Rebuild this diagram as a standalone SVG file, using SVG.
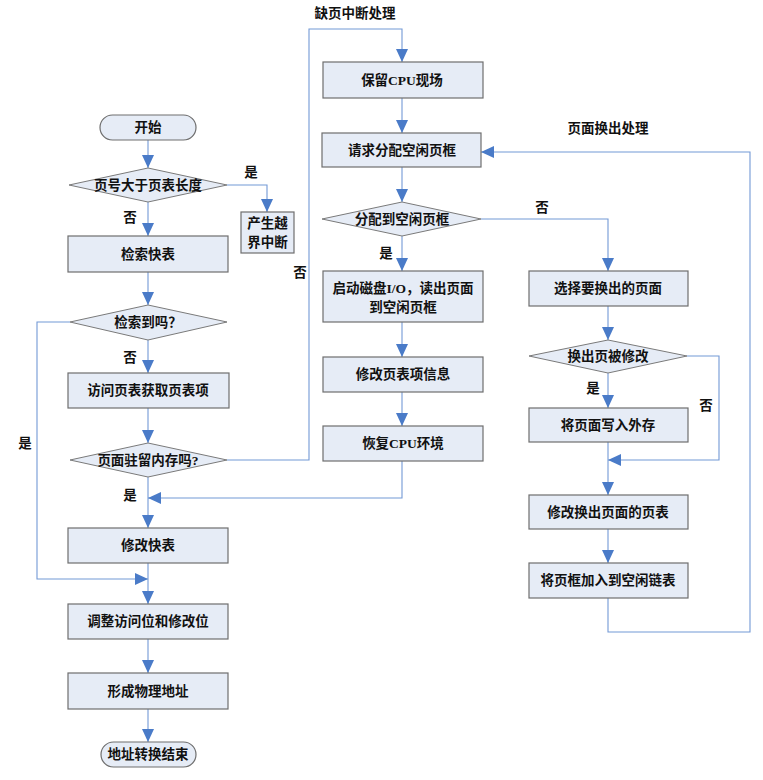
<svg xmlns="http://www.w3.org/2000/svg" width="763" height="780" viewBox="0 0 763 780">
<style>
.box{fill:#e6ecf6;stroke:#6e6e6e;stroke-width:1.2}
.dia{fill:#e6ecf6;stroke:#7a7a7a;stroke-width:1}
.t{font-family:"Liberation Serif","Noto Sans CJK SC",serif;font-weight:bold;font-size:13.5px;fill:#111;text-anchor:middle}
.l{font-family:"Liberation Serif","Noto Sans CJK SC",serif;font-weight:bold;font-size:13.5px;fill:#111;text-anchor:middle}
.c{fill:none;stroke:#7399d6;stroke-width:1.1}
</style>
<defs>
<marker id="ah" markerUnits="userSpaceOnUse" markerWidth="13" markerHeight="12" refX="13" refY="6" orient="auto">
<path d="M0,0 L13,6 L0,12 z" fill="#4a7bc8"/>
</marker>
</defs>
<rect width="763" height="780" fill="#fff"/>
<g id="connectors">
<path class="c" d="M148,140 V168" marker-end="url(#ah)"/>
<path class="c" d="M227,185 H267 V212" marker-end="url(#ah)"/>
<path class="c" d="M148,202 V236" marker-end="url(#ah)"/>
<path class="c" d="M148,272 V305" marker-end="url(#ah)"/>
<path class="c" d="M148,340 V373" marker-end="url(#ah)"/>
<path class="c" d="M148,408 V443" marker-end="url(#ah)"/>
<path class="c" d="M148,477 V528" marker-end="url(#ah)"/>
<path class="c" d="M70,322 H37 V579 H148" marker-end="url(#ah)"/>
<path class="c" d="M148,563 V604" marker-end="url(#ah)"/>
<path class="c" d="M148,639 V673" marker-end="url(#ah)"/>
<path class="c" d="M148,709 V742" marker-end="url(#ah)"/>
<path class="c" d="M227,460 H309 V29 H402 V62" marker-end="url(#ah)"/>
<path class="c" d="M402,98 V133" marker-end="url(#ah)"/>
<path class="c" d="M402,167 V202" marker-end="url(#ah)"/>
<path class="c" d="M402,236 V271" marker-end="url(#ah)"/>
<path class="c" d="M402,322 V357" marker-end="url(#ah)"/>
<path class="c" d="M402,392 V426" marker-end="url(#ah)"/>
<path class="c" d="M402,461 V498 H148" marker-end="url(#ah)"/>
<path class="c" d="M481,219 H608 V271" marker-end="url(#ah)"/>
<path class="c" d="M608,306 V340" marker-end="url(#ah)"/>
<path class="c" d="M608,373 V408" marker-end="url(#ah)"/>
<path class="c" d="M687,356 H719 V460 H608" marker-end="url(#ah)"/>
<path class="c" d="M608,442 V495" marker-end="url(#ah)"/>
<path class="c" d="M608,529 V563" marker-end="url(#ah)"/>
<path class="c" d="M608,598 V632 H750 V152 H481" marker-end="url(#ah)"/>
</g>
<g id="labels">
<text class="l" x="355" y="18">缺页中断处理</text>
<text class="l" x="608" y="133">页面换出处理</text>
<text class="l" x="251" y="177">是</text>
<text class="l" x="130" y="222">否</text>
<text class="l" x="130" y="362">否</text>
<text class="l" x="25" y="448">是</text>
<text class="l" x="130" y="500">是</text>
<text class="l" x="300" y="277">否</text>
<text class="l" x="386" y="258">是</text>
<text class="l" x="542" y="212">否</text>
<text class="l" x="593" y="393">是</text>
<text class="l" x="706" y="410">否</text>
</g>
<g id="start"><rect class="box" x="100" y="115" width="96" height="25" rx="12.5"/><text class="t" x="148" y="132">开始</text></g>
<g id="d1"><polygon class="dia" points="69,185 148,168 227,185 148,202"/><text class="t" x="148" y="190">页号大于页表长度</text></g>
<g id="overflow"><rect class="box" x="241" y="212" width="53" height="41"/><text class="t" x="267.5" y="228">产生越</text><text class="t" x="267.5" y="247">界中断</text></g>
<g id="tlb"><rect class="box" x="68" y="236" width="160" height="36"/><text class="t" x="148" y="259">检索快表</text></g>
<g id="d2"><polygon class="dia" points="70,322 148,305 227,322 148,340"/><text class="t" x="148" y="327">检索到吗？</text></g>
<g id="access"><rect class="box" x="68" y="373" width="161" height="35"/><text class="t" x="148" y="395">访问页表获取页表项</text></g>
<g id="d3"><polygon class="dia" points="70,460 148,443 227,460 148,477"/><text class="t" x="148" y="465">页面驻留内存吗?</text></g>
<g id="modtlb"><rect class="box" x="68" y="528" width="160" height="35"/><text class="t" x="148" y="550">修改快表</text></g>
<g id="adjust"><rect class="box" x="68" y="604" width="160" height="35"/><text class="t" x="148" y="626">调整访问位和修改位</text></g>
<g id="phys"><rect class="box" x="68" y="673" width="160" height="36"/><text class="t" x="148" y="696">形成物理地址</text></g>
<g id="end"><rect class="box" x="101" y="742" width="95" height="25" rx="12.5"/><text class="t" x="148" y="759">地址转换结束</text></g>
<g id="save"><rect class="box" x="323" y="62" width="160" height="36"/><text class="t" x="402" y="85">保留CPU现场</text></g>
<g id="request"><rect class="box" x="322" y="133" width="159" height="34"/><text class="t" x="402" y="155">请求分配空闲页框</text></g>
<g id="d4"><polygon class="dia" points="322,219 402,202 481,219 402,236"/><text class="t" x="402" y="224">分配到空闲页框</text></g>
<g id="disk"><rect class="box" x="323" y="271" width="160" height="51"/><text class="t" x="403" y="293">启动磁盘I/O，读出页面</text><text class="t" x="403" y="312">到空闲页框</text></g>
<g id="modpte"><rect class="box" x="323" y="357" width="160" height="35"/><text class="t" x="403" y="379">修改页表项信息</text></g>
<g id="restore"><rect class="box" x="323" y="426" width="160" height="35"/><text class="t" x="403" y="448">恢复CPU环境</text></g>
<g id="select"><rect class="box" x="529" y="271" width="159" height="35"/><text class="t" x="608" y="293">选择要换出的页面</text></g>
<g id="d5"><polygon class="dia" points="529,356 608,340 687,356 608,373"/><text class="t" x="608" y="361">换出页被修改</text></g>
<g id="write"><rect class="box" x="529" y="408" width="159" height="34"/><text class="t" x="608" y="430">将页面写入外存</text></g>
<g id="modout"><rect class="box" x="529" y="495" width="159" height="34"/><text class="t" x="608" y="517">修改换出页面的页表</text></g>
<g id="free"><rect class="box" x="529" y="563" width="159" height="35"/><text class="t" x="608" y="585">将页框加入到空闲链表</text></g>
</svg>
